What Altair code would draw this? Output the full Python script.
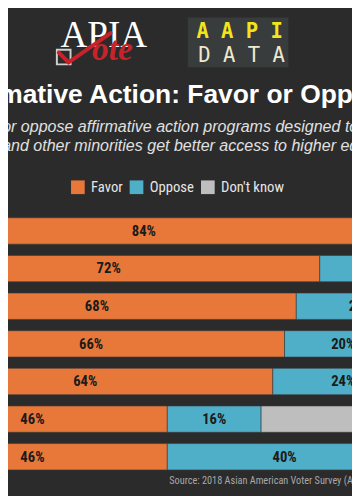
import altair as alt
import pandas as pd

# ---- data ----
groups = ["Group 1", "Group 2", "Group 3", "Group 4", "Group 5", "Group 6", "Group 7"]
favor = [84, 72, 68, 66, 64, 46, 46]
oppose = [8, 16, 22, 20, 24, 16, 40]
dont_know = [8, 12, 10, 14, 12, 38, 14]
responses = ["Favor", "Oppose", "Don't know"]
colors = ["#E8783A", "#50AFC8", "#BEBEBE"]

title_hidden = "Affir"
title_text = "mative Action: Favor or Oppose?"
sub1_hidden = "Do you favor "
sub1 = "or oppose affirmative action programs designed to help blacks, women,"
sub2 = "and other minorities get better access to higher education?"
source_text = "Source: 2018 Asian American Voter Survey (AAVS)"

rows = []
for i, g in enumerate(groups):
    for j, (r, v) in enumerate(zip(responses, [favor[i], oppose[i], dont_know[i]])):
        rows.append({"group": g, "response": r, "pct": v, "order": j, "label": f"{v}%"})
df = pd.DataFrame(rows)

W, H = 352, 488
BG = "#2b2b2b"
COND = "Roboto Condensed, Liberation Sans Narrow, Roboto"

xscale = alt.Scale(domain=[0, 100], range=[-113, 487], nice=False, zero=False)
yscale = alt.Scale(range=[209, 467], paddingInner=0.3, paddingOuter=0)

base = alt.Chart(df).transform_stack(
    stack="pct", groupby=["group"], as_=["x0", "x1"], sort=[alt.SortField("order")]
).transform_calculate(mid="(datum.x0 + datum.x1) / 2")

bars = base.mark_bar(clip=True, stroke="#3a3a3a", strokeWidth=0.6).encode(
    x=alt.X("x0:Q", scale=xscale, axis=None),
    x2="x1:Q",
    y=alt.Y("group:N", sort=groups, scale=yscale, axis=None),
    color=alt.Color(
        "response:N",
        scale=alt.Scale(domain=responses, range=colors),
        legend=alt.Legend(
            title=None, orient="none", direction="horizontal",
            legendX=64, legendY=170, symbolType="square", symbolSize=196,
            symbolStrokeWidth=0, symbolOpacity=1, labelColor="#e6e6e6",
            labelFont=COND, labelFontSize=15, labelOffset=6, columnPadding=6,
            padding=0,
        ),
    ),
)

labels = base.mark_text(clip=True, font=COND, fontWeight="bold", fontSize=15,
                        color="#1b1b1b").encode(
    x=alt.X("mid:Q", scale=xscale, axis=None),
    y=alt.Y("group:N", sort=groups, scale=yscale, axis=None),
    text="label:N",
)

one = pd.DataFrame({"a": [0]})


def txt(s, x, y, **kw):
    return alt.Chart(pd.DataFrame({"t": [s]})).mark_text(baseline="alphabetic", **kw).encode(
        text="t:N", x=alt.value(x), y=alt.value(y))


def rule(x, y, x2, y2, color, w):
    return alt.Chart(one).mark_rule(color=color, strokeWidth=w, strokeCap="round").encode(
        x=alt.value(x), y=alt.value(y), x2=alt.value(x2), y2=alt.value(y2))


tstyle = dict(font="Liberation Sans", fontWeight="bold", fontSize=27, color="#ffffff")
sstyle = dict(font="Liberation Sans", fontStyle="italic", fontSize=16.4, color="#e0e0e0")
title_a = txt(title_hidden, -8, 92, align="right", **tstyle)
title_b = txt(title_text, -9, 92, align="left", **tstyle)
s1a = txt(sub1_hidden, -6, 121, align="right", **sstyle)
s1b = txt(sub1, -6, 121, align="left", **sstyle)
s2 = txt(sub2, -6, 141, align="left", **sstyle)
src = txt(source_text, 165, 481, align="left", font=COND, fontSize=10.5, color="#a8a8a8")

# APIA Vote logo
apia = txt("APIA", 98, 34, align="center", font="Liberation Serif", fontSize=38, color="#ffffff")
box = alt.Chart(one).mark_rect(fill=None, stroke="#cfcfcf", strokeWidth=2).encode(
    x=alt.value(50), x2=alt.value(64), y=alt.value(37), y2=alt.value(52))
chk1 = rule(52, 40, 62, 50, "#c8232a", 4)
chk2 = rule(62, 50, 105, 20, "#c8232a", 4)
ote = txt("ote", 86, 48, align="left", font="Liberation Serif", fontStyle="italic",
          fontWeight="bold", fontSize=34, color="#c8232a")

# AAPI DATA logo
dbox = alt.Chart(one).mark_rect(fill="#383c3c").encode(
    x=alt.value(184), x2=alt.value(287), y=alt.value(4), y2=alt.value(55))
aapi = txt("A A P I", 237, 25, align="center", font="DejaVu Sans Mono", fontWeight="bold",
           fontSize=21, color="#f2e51b")
data_t = txt("D A T A", 239, 50, align="center", font="DejaVu Sans Mono",
             fontSize=21, color="#efe9cf")

chart = alt.layer(
    bars, labels, title_a, title_b, s1a, s1b, s2, src, dbox, aapi, data_t,
    apia, box, chk2, chk1, ote
).properties(
    width=W, height=H, background=BG, padding=0,
    autosize=alt.AutoSizeParams(type="none"),
).configure_view(stroke=None)

chart.save("out.html", embed_options={"renderer": "svg", "actions": False})
